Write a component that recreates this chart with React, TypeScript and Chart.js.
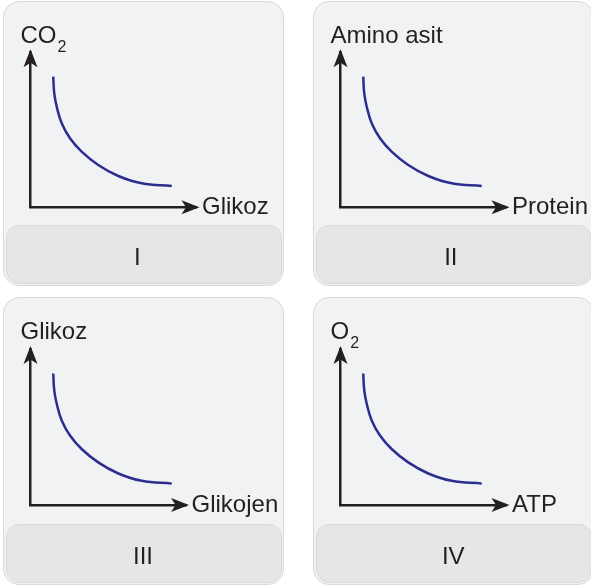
import React, { useEffect, useRef } from "react";
import { Chart, registerables } from "chart.js";

Chart.register(...registerables);

// ---------------- data ----------------
const numerals = ["I", "II", "III", "IV"];
const yAxisNames = ["CO", "Amino asit", "Glikoz", "O"];
const yAxisSubs = ["2", "", "", "2"];
const xAxisNames = ["Glikoz", "Protein", "Glikojen", "ATP"];
const curveX = [13.7, 14.3, 15.8, 18.8, 23.8, 30.8, 40.8, 52.9, 67.0, 85.1];
const curveY = [84.3, 73.6, 64.9, 54.2, 44.5, 35.9, 27.3, 20.2, 15.5, 13.7];
const xAxisMax = [100, 100, 93.7, 100];
const yAxisMax = 100;

// ---------------- layout / style ----------------
const W = 591;
const H = 587;
const colLeft = [3, 313];
const rowTop = [1, 297];
const panelW = 281;
const panelH = [285, 288];
const stripH = 61;
const axisLeft = 27.5;
const axisTipTop = [48.3, 49];
const axisBottom = [206.3, 208];
const unitX = 166 / 100;
const OVER = 3;
const numeralCx = [137.3, 450.8, 143, 453.3];
const FONT = '"Liberation Sans", Arial, Helvetica, sans-serif';
const FS = 24;
const ASC = 0.8465 * FS;
const AXIS = "#231f20";
const CURVE = "#2b2e8f";
const PANEL_BG = "#f1f2f4";
const STRIP_BG = "#e5e6e8";
const BORDER = "#d9dadc";

const arrowPlugin = {
  id: "axisArrows",
  afterDraw(chart: any) {
    const { ctx, chartArea } = chart;
    const { left, top, right, bottom } = chartArea;
    const L = 18, HW = 7, N = 4.5;
    ctx.save();
    ctx.fillStyle = AXIS;
    const ux = left, uy = top - OVER;
    ctx.beginPath();
    ctx.moveTo(ux, uy);
    ctx.lineTo(ux + HW, uy + L);
    ctx.lineTo(ux, uy + L - N);
    ctx.lineTo(ux - HW, uy + L);
    ctx.closePath();
    ctx.fill();
    const rx = right + OVER, ry = bottom;
    ctx.beginPath();
    ctx.moveTo(rx, ry);
    ctx.lineTo(rx - L, ry - HW);
    ctx.lineTo(rx - L + N, ry);
    ctx.lineTo(rx - L, ry + HW);
    ctx.closePath();
    ctx.fill();
    ctx.restore();
  },
};

function Panel({ i }: { i: number }) {
  const ref = useRef<HTMLCanvasElement | null>(null);
  const c = i % 2;
  const r = Math.floor(i / 2);
  const px = colLeft[c];
  const py = rowTop[r];
  const ch = panelH[r] - stripH;
  const top = axisTipTop[r] + OVER;
  const right = axisLeft + unitX * xAxisMax[i];

  useEffect(() => {
    const chart = new Chart(ref.current as HTMLCanvasElement, {
      type: "line",
      data: {
        datasets: [
          {
            data: curveX.map((x, k) => ({ x, y: curveY[k] })),
            borderColor: CURVE,
            borderWidth: 2.5,
            pointRadius: 0,
            tension: 0.4,
            fill: false,
            clip: false as any,
          },
        ],
      },
      options: {
        animation: false,
        responsive: false,
        events: [],
        layout: {
          padding: {
            left: axisLeft,
            top: top,
            right: panelW - right,
            bottom: ch - axisBottom[r],
          },
        },
        plugins: { legend: { display: false }, tooltip: { enabled: false } },
        scales: {
          x: {
            type: "linear",
            min: 0,
            max: xAxisMax[i],
            grid: { display: false, drawTicks: false },
            ticks: { display: false },
            border: { display: true, color: AXIS, width: 2.5 },
          },
          y: {
            type: "linear",
            min: 0,
            max: yAxisMax,
            grid: { display: false, drawTicks: false },
            ticks: { display: false },
            border: { display: true, color: AXIS, width: 2.5 },
          },
        },
      },
      plugins: [arrowPlugin],
    } as any);
    return () => chart.destroy();
  }, []);

  const textBase: React.CSSProperties = {
    position: "absolute",
    fontFamily: FONT,
    fontSize: FS,
    lineHeight: FS + "px",
    color: AXIS,
    whiteSpace: "nowrap",
  };

  return (
    <>
      <div
        style={{
          position: "absolute",
          left: px,
          top: py,
          width: panelW,
          height: panelH[r],
          boxSizing: "border-box",
          background: PANEL_BG,
          border: `1.5px solid ${BORDER}`,
          borderRadius: 16,
        }}
      />
      <div
        style={{
          position: "absolute",
          left: px + 2.5,
          top: py + panelH[r] - stripH,
          width: panelW - 5,
          height: stripH - 2.5,
          boxSizing: "border-box",
          background: STRIP_BG,
          border: `1px solid ${BORDER}`,
          borderRadius: "13px 13px 14px 14px",
        }}
      />
      <canvas
        ref={ref}
        width={panelW}
        height={ch}
        style={{ position: "absolute", left: px, top: py, width: panelW, height: ch }}
      />
      <div style={{ ...textBase, left: px + 17.5, top: py + 42 - ASC }}>
        {yAxisNames[i]}
        {yAxisSubs[i] ? (
          <span style={{ fontSize: 16, position: "relative", top: 9.5, marginLeft: 1 }}>
            {yAxisSubs[i]}
          </span>
        ) : null}
      </div>
      <div
        style={{
          ...textBase,
          left: px + right + OVER + 2.5,
          top: py + axisBottom[r] + 7 - ASC,
        }}
      >
        {xAxisNames[i]}
      </div>
      <div
        style={{
          ...textBase,
          left: numeralCx[i] - 50,
          width: 100,
          textAlign: "center",
          top: py + panelH[r] - stripH + 40.7 - ASC,
        }}
      >
        {numerals[i]}
      </div>
    </>
  );
}

export default function App() {
  return (
    <div
      style={{
        position: "fixed",
        left: 0,
        top: 0,
        width: W,
        height: H,
        overflow: "hidden",
        background: "#ffffff",
      }}
    >
      {[0, 1, 2, 3].map((i) => (
        <Panel key={i} i={i} />
      ))}
    </div>
  );
}
